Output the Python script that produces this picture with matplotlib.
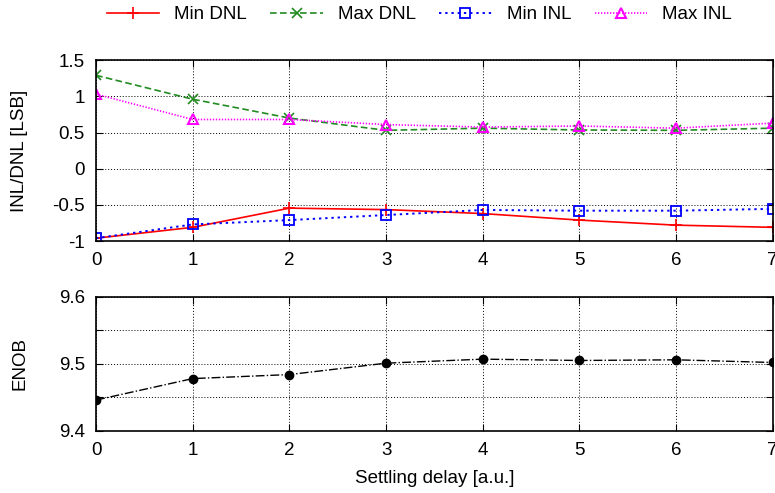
import numpy as np
import matplotlib
matplotlib.use('Agg')
import matplotlib.pyplot as plt

plt.rcParams['font.family'] = ['Liberation Sans', 'DejaVu Sans']

# data
delay = [0, 1, 2, 3, 4, 5, 6, 7]
min_dnl = [-0.96, -0.81, -0.545, -0.565, -0.62, -0.71, -0.78, -0.81]
max_dnl = [1.29, 0.96, 0.70, 0.53, 0.56, 0.535, 0.53, 0.56]
min_inl = [-0.96, -0.77, -0.71, -0.64, -0.57, -0.58, -0.58, -0.555]
max_inl = [1.03, 0.68, 0.68, 0.61, 0.575, 0.59, 0.56, 0.63]
enob = [9.446, 9.478, 9.484, 9.501, 9.507, 9.505, 9.506, 9.502]

fs = 13.5

fig = plt.figure(figsize=(7.75, 4.93), dpi=100)
ax1 = fig.add_axes([0.124, 0.511, 0.873, 0.367])
ax2 = fig.add_axes([0.124, 0.126, 0.873, 0.272])

# top panel
l1, = ax1.plot(delay, min_dnl, color='red', ls='-', lw=1.2, marker='+', ms=8, mew=1.2, label='Min DNL')
l2, = ax1.plot(delay, max_dnl, color='#228b22', ls=(0, (4, 2)), lw=1.2, marker='x', ms=6.5, mew=1.2, label='Max DNL')
l3, = ax1.plot(delay, min_inl, color='blue', ls=(0, (1.2, 2)), lw=1.4, marker='s', ms=6.5, mfc='none', mew=1.3, label='Min INL')
l4, = ax1.plot(delay, max_inl, color='magenta', ls=(0, (0.8, 1)), lw=1.2, marker='^', ms=7, mfc='none', mew=1.5, label='Max INL')
ax1.set_xlim(0, 7)
ax1.set_ylim(-1, 1.5)
ax1.set_yticks([-1, -0.5, 0, 0.5, 1, 1.5])
ax1.set_yticklabels(['-1', '-0.5', '0', '0.5', '1', '1.5'])
ax1.set_ylabel('INL/DNL [LSB]', fontsize=fs)
ax1.yaxis.set_label_coords(-0.1, 0.5)

# bottom panel
ax2.plot(delay, enob, color='black', ls='-.', lw=1.0, marker='o', ms=6)
ax2.set_xlim(0, 7)
ax2.set_ylim(9.4, 9.6)
ax2.set_yticks([9.4, 9.45, 9.5, 9.55, 9.6])
ax2.set_yticklabels(['9.4', '', '9.5', '', '9.6'])
ax2.set_ylabel('ENOB', fontsize=fs)
ax2.yaxis.set_label_coords(-0.1, 0.5)
ax2.set_xlabel('Settling delay [a.u.]', fontsize=fs, labelpad=8)

for ax in (ax1, ax2):
    ax.set_xticks(delay)
    ax.grid(True, color='black', ls=(0, (1, 2)), lw=0.7)
    ax.tick_params(direction='in', top=True, right=True, labelsize=fs, length=5, pad=8)
    for s in ax.spines.values():
        s.set_linewidth(1.2)

fig.legend(handles=[l1, l2, l3, l4], loc='center', bbox_to_anchor=(0.541, 0.97), ncol=4,
           frameon=False, fontsize=fs, handlelength=2.8, handletextpad=0.8, columnspacing=1.25)

plt.savefig('out.png', dpi=100)
plt.close()
